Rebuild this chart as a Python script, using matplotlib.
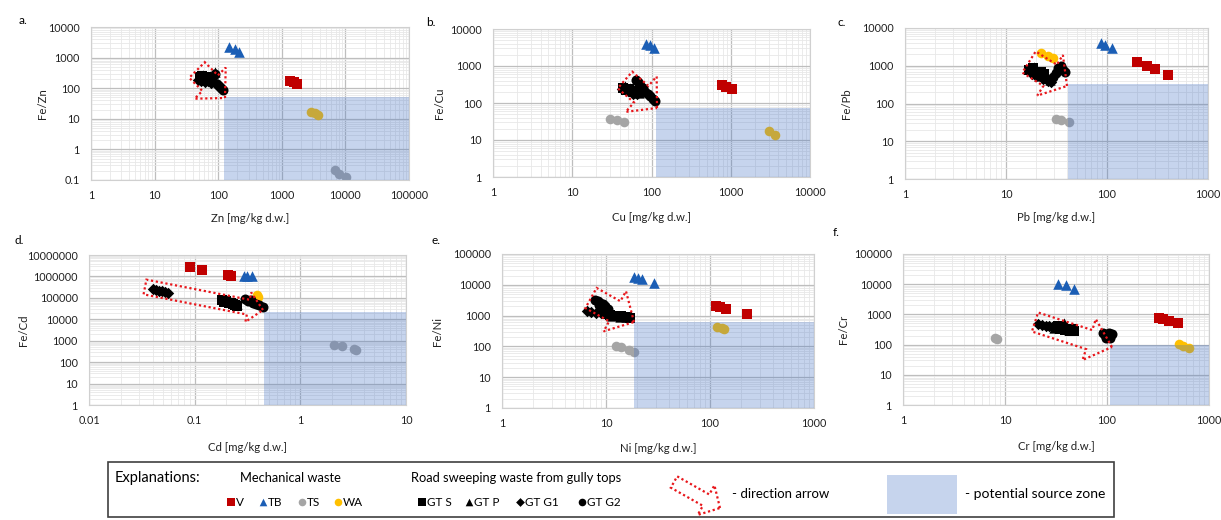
import numpy as np
import matplotlib.pyplot as plt
from matplotlib.patches import FancyArrow, Rectangle
from matplotlib.ticker import LogLocator, FuncFormatter, NullFormatter

plt.rcParams['font.family'] = ['Lato', 'DejaVu Sans']

# each series: (metal content [mg/kg d.w.], Fe/metal ratio)
# a. Zn
zn_V = ([1350, 1550, 1750], [175, 160, 140])
zn_TB = ([150, 185, 215], [2300, 1900, 1550])
zn_TS = ([6800, 8000, 10200], [0.21, 0.16, 0.125])
zn_WA = ([2900, 3300, 3700], [17, 15.5, 13.5])
zn_GTS = ([52, 56, 60, 64, 68, 72], [230, 260, 210, 240, 200, 220])
zn_GTP = ([58, 66, 75, 82, 90], [280, 190, 250, 300, 330])
zn_GTG1 = ([48, 54, 62, 70, 78], [190, 170, 160, 175, 150])
zn_GTG2 = ([80, 88, 95, 102, 110, 118], [170, 300, 140, 115, 100, 88])

# b. Cu
cu_V = ([780, 880, 1050], [310, 270, 235])
cu_TB = ([85, 95, 108], [4000, 3600, 3100])
cu_TS = ([30, 37, 45], [38, 34, 31])
cu_WA = ([3000, 3600], [17, 14])
cu_GTS = ([44, 48, 52, 56, 60], [260, 230, 240, 210, 200])
cu_GTP = ([46, 54, 62, 70], [280, 250, 220, 190])
cu_GTG1 = ([42, 50, 58, 66], [240, 210, 180, 175])
cu_GTG2 = ([64, 68, 72, 78, 84, 90, 96, 104, 112], [410, 370, 300, 250, 200, 170, 150, 130, 115])

# c. Pb
pb_V = ([200, 248, 296, 400], [1230, 960, 815, 580])
pb_TB = ([87, 96, 112], [4000, 3600, 2950])
pb_TS = ([31, 35, 42], [38.5, 37, 33])
pb_WA = ([22, 26, 29.5], [2150, 1850, 1600])
pb_GTS = ([17, 18.5, 20, 22, 24], [750, 850, 650, 700, 600])
pb_GTP = ([19, 21, 25, 27], [950, 550, 480, 420])
pb_GTG1 = ([18, 20, 23, 26, 28], [600, 520, 450, 400, 380])
pb_GTG2 = ([29, 31, 33, 35, 37, 38.5], [500, 650, 850, 1000, 750, 680])

# d. Cd
cd_V = ([0.09, 0.118, 0.205, 0.22], [2.8e6, 2.1e6, 1.15e6, 1.1e6])
cd_TB = ([0.29, 0.31, 0.35], [1.1e6, 1.05e6, 1.0e6])
cd_TS = ([2.1, 2.5, 3.2, 3.35], [620, 580, 420, 370])
cd_WA = ([0.39, 0.4], [1.3e5, 1.1e5])
cd_GTS = ([0.18, 0.19, 0.20, 0.21, 0.22, 0.23, 0.24, 0.25], [8e4, 6.5e4, 7e4, 5.5e4, 6e4, 5e4, 4.5e4, 4.2e4])
cd_GTP = ([0.19, 0.22, 0.25], [7.5e4, 6.5e4, 5e4])
cd_GTG1 = ([0.040, 0.043, 0.046, 0.049, 0.052, 0.056], [2.5e5, 2.3e5, 2.1e5, 2.0e5, 1.8e5, 1.65e5])
cd_GTG2 = ([0.30, 0.32, 0.34, 0.36, 0.38, 0.41, 0.44], [9e4, 7e4, 8e4, 6e4, 5e4, 4.5e4, 3.8e4])

# e. Ni
ni_V = ([115, 125, 143, 225], [2100, 1950, 1650, 1100])
ni_TB = ([18.5, 20.5, 22, 29], [18500, 16500, 15500, 11500])
ni_TS = ([12.5, 14, 16.5, 18.5], [100, 96, 76, 68])
ni_WA = ([118, 130, 135], [430, 390, 380])
ni_GTS = ([10, 11, 12, 13, 14, 15, 16, 17], [1100, 1050, 1000, 950, 950, 900, 880, 850])
ni_GTP = ([11.5, 13.5, 15.5], [1000, 920, 870])
ni_GTG1 = ([6.5, 7.2, 8, 9, 10], [1400, 1300, 1250, 1200, 1150])
ni_GTG2 = ([7.9, 8.3, 8.8, 9.3, 9.8, 10.5, 8.5, 9.5], [3200, 2900, 2600, 2300, 2000, 1700, 2200, 1600])

# f. Cr
cr_V = ([321, 355, 402, 497], [770, 730, 600, 500])
cr_TB = ([33, 40, 47], [10500, 9200, 7200])
cr_TS = ([7.9, 8.3], [168, 151])
cr_WA = ([504, 556, 631], [104, 91, 78])
cr_GTS = ([33, 35, 37, 39, 41, 43, 45, 47], [400, 330, 380, 300, 340, 290, 320, 280])
cr_GTP = ([30, 36, 38, 42], [350, 420, 520, 310])
cr_GTG1 = ([21, 23, 25, 27, 29, 31], [480, 450, 420, 400, 380, 360])
cr_GTG2 = ([92, 96, 100, 104, 108, 112, 98, 106], [240, 210, 190, 250, 220, 230, 160, 170])

# potential source zone: (min metal content, max Fe/metal ratio)
zone_zn = (124, 50)
zone_cu = (115, 75)
zone_pb = (41, 330)
zone_cd = (0.45, 22000)
zone_ni = (18.6, 640)
zone_cr = (108, 100)

W, H = 1221, 520
col = {'V': '#C00000', 'TB': '#1B5EB5', 'TS': '#A5A5A5', 'WA': '#FFC000', 'GT': 'black'}

panels = [
    dict(tag='a.', el='Zn', box=(91, 27, 409, 180), xlim=(1, 1e5), ylim=(0.1, 1e4), zone=zone_zn,
         data=[zn_V, zn_TB, zn_TS, zn_WA, zn_GTS, zn_GTP, zn_GTG1, zn_GTG2],
         tagxy=(19, 21), ylx=-43, xly=33),
    dict(tag='b.', el='Cu', box=(493, 29, 810, 177), xlim=(1, 1e4), ylim=(1, 1e4), zone=zone_cu,
         data=[cu_V, cu_TB, cu_TS, cu_WA, cu_GTS, cu_GTP, cu_GTG1, cu_GTG2],
         tagxy=(426, 22), ylx=-48, xly=35),
    dict(tag='c.', el='Pb', box=(905, 28, 1208, 179), xlim=(1, 1e3), ylim=(1, 1e4), zone=zone_pb,
         data=[pb_V, pb_TB, pb_TS, pb_WA, pb_GTS, pb_GTP, pb_GTG1, pb_GTG2],
         tagxy=(838, 23), ylx=-53, xly=33),
    dict(tag='d.', el='Cd', box=(89, 255, 406, 405), xlim=(0.01, 10), ylim=(1, 1e7), zone=zone_cd,
         data=[cd_V, cd_TB, cd_TS, cd_WA, cd_GTS, cd_GTP, cd_GTG1, cd_GTG2],
         tagxy=(15, 240), ylx=-60, xly=37),
    dict(tag='e.', el='Ni', box=(502, 254, 814, 408), xlim=(1, 1e3), ylim=(1, 1e5), zone=zone_ni,
         data=[ni_V, ni_TB, ni_TS, ni_WA, ni_GTS, ni_GTP, ni_GTG1, ni_GTG2],
         tagxy=(431, 241), ylx=-59, xly=35),
    dict(tag='f.', el='Cr', box=(903, 254, 1209, 405), xlim=(1, 1e3), ylim=(1, 1e5), zone=zone_cr,
         data=[cr_V, cr_TB, cr_TS, cr_WA, cr_GTS, cr_GTP, cr_GTG1, cr_GTG2],
         tagxy=(833, 232), ylx=-54, xly=36),
]

styles = [('s', col['V'], 42), ('^', col['TB'], 58), ('o', col['TS'], 48), ('o', col['WA'], 48),
          ('s', col['GT'], 50), ('^', col['GT'], 55), ('D', col['GT'], 34), ('o', col['GT'], 52)]


def plain(v, pos):
    return str(int(round(v))) if v >= 1 else f'{v:g}'


fig = plt.figure(figsize=(W / 100, H / 100), dpi=100)

for p in panels:
    l, t, r, b = p['box']
    ax = fig.add_axes([l / W, (H - b) / H, (r - l) / W, (b - t) / H])
    ax.set_xscale('log')
    ax.set_yscale('log')
    ax.set_xlim(*p['xlim'])
    ax.set_ylim(*p['ylim'])
    for loc_ax in (ax.xaxis, ax.yaxis):
        loc_ax.set_major_locator(LogLocator(base=10, numticks=20))
        loc_ax.set_minor_locator(LogLocator(base=10, subs=np.arange(2, 10), numticks=20))
        loc_ax.set_major_formatter(FuncFormatter(plain))
        loc_ax.set_minor_formatter(NullFormatter())
    ax.grid(which='major', color='#BEBEBE', lw=0.9)
    ax.grid(which='minor', color='#E8E8E8', lw=0.6)
    ax.set_axisbelow(True)
    ax.tick_params(which='both', length=0, labelsize=7.8, colors='#222222')
    ax.tick_params(axis='x', pad=7)
    ax.tick_params(axis='y', pad=8)
    for s in ax.spines.values():
        s.set_color('#D0D0D0')
        s.set_linewidth(0.8)

    for (xs, ys), (m, c, sz) in zip(p['data'], styles):
        ax.scatter(xs, ys, marker=m, s=sz, color=c, linewidths=0, zorder=2)

    zx, zy = p['zone']
    x1 = p['xlim'][1]
    y0 = p['ylim'][0]
    ax.fill([zx, x1, x1, zx], [y0, y0, zy, zy], color='#4472C4', alpha=0.3, lw=0, zorder=3)

    ax.set_xlabel(f"{p['el']} [mg/kg d.w.]", fontsize=8.2, color='#222222')
    ax.set_ylabel(f"Fe/{p['el']}", fontsize=8.2, color='#222222')
    ax.yaxis.set_label_coords(p['ylx'] / (r - l), 0.5)
    ax.xaxis.set_label_coords(0.5, -p['xly'] / (b - t))
    fig.text(p['tagxy'][0] / W, 1 - p['tagxy'][1] / H, p['tag'], fontsize=8.5, va='center', ha='left')

# overlay in pixel units for arrows and the explanation box
ov = fig.add_axes([0, 0, 1, 1], zorder=10)
ov.set_xlim(0, W)
ov.set_ylim(H, 0)
ov.axis('off')

# direction arrows: tail (x, y), tip (x, y), shaft width, head width, head length
arrows = [
    (197, 70, 225, 98, 22, 44, 21),
    (625, 80, 657, 108, 22, 47, 21),
    (1029, 62, 1067, 86, 25, 48, 20),
    (145, 287, 263, 310, 15, 30, 15),
    (591, 298, 634, 322, 23, 46, 22),
    (1035, 322, 1112, 347, 20, 43, 24),
    (674, 482, 720, 508, 13, 34, 16),
]
for x0, y0, x1, y1, w, hw, hl in arrows:
    ov.add_patch(FancyArrow(x0, y0, x1 - x0, y1 - y0, width=w, head_width=hw, head_length=hl,
                            length_includes_head=True, fill=False, edgecolor='#E8161B',
                            linestyle=(0, (1, 1.2)), linewidth=1.6))

ov.add_patch(Rectangle((108, 462), 1006, 55, fill=False, edgecolor='#404040', lw=1.2))
ov.text(115, 478, 'Explanations:', fontsize=10.5, va='center', ha='left')
ov.text(240, 478, 'Mechanical waste', fontsize=9.3, va='center', ha='left')
ov.text(411, 478, 'Road sweeping waste from gully tops', fontsize=9.3, va='center', ha='left')

legend_items = [('V', 231), ('TB', 263), ('TS', 302), ('WA', 338),
                ('GT S', 422), ('GT P', 469), ('GT G1', 520), ('GT G2', 582)]
for (name, mx), (m, c, sz) in zip(legend_items, styles):
    ov.scatter([mx], [502], marker=m, s=30 if m != 'D' else 20, color=c, linewidths=0)
    ov.text(mx + 5, 502, name, fontsize=8.5, va='center', ha='left')

ov.text(732, 494, '- direction arrow', fontsize=9.5, va='center', ha='left')
ov.add_patch(Rectangle((887, 475), 70, 39, facecolor='#4472C4', alpha=0.3, lw=0))
ov.text(965, 494, '- potential source zone', fontsize=10, va='center', ha='left')

fig.savefig('out.png', dpi=100)
